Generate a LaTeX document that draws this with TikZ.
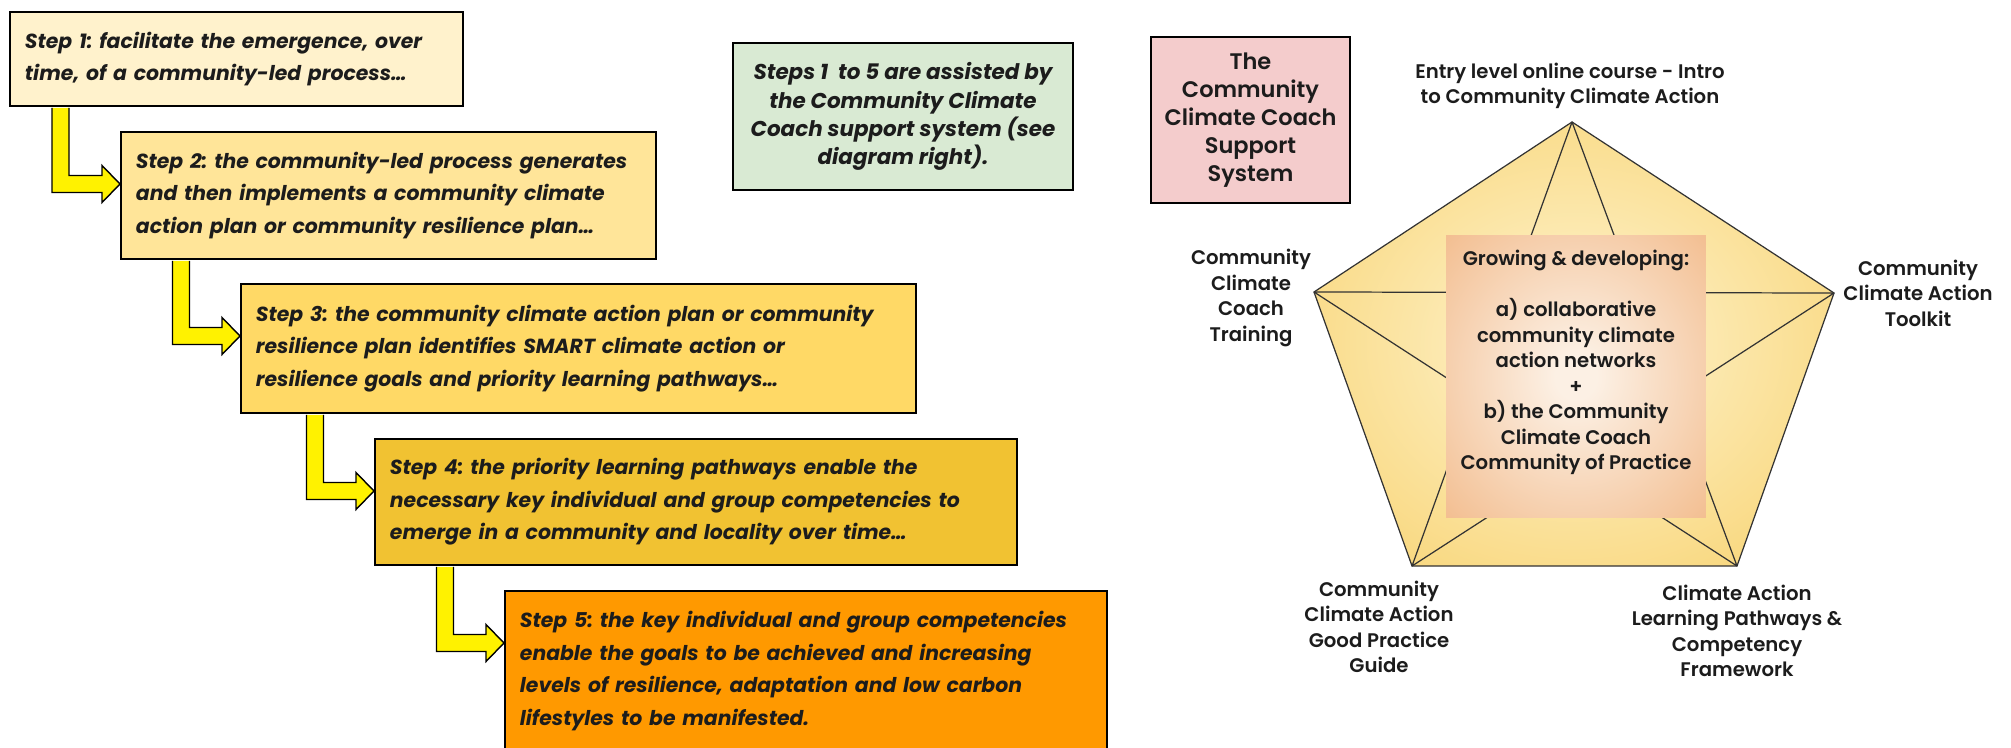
\documentclass[tikz,border=0pt]{standalone}
\usepackage{fontspec}
\setmainfont{Poppins}
\newfontfamily\semifont{Poppins SemiBold}
\frenchspacing
\usetikzlibrary{calc}

\definecolor{stepA}{HTML}{FFF2CC}
\definecolor{stepB}{HTML}{FFE599}
\definecolor{stepC}{HTML}{FFD966}
\definecolor{stepD}{HTML}{F1C232}
\definecolor{stepE}{HTML}{FF9900}
\definecolor{noteGreen}{HTML}{D9EAD3}
\definecolor{notePink}{HTML}{F4CCCC}
\definecolor{tentIn}{HTML}{FDEFC2}
\definecolor{tentOut}{HTML}{F8D474}
\definecolor{coreIn}{HTML}{FCF0E4}
\definecolor{coreOut}{HTML}{EEA465}
\definecolor{ink}{HTML}{1C1C1C}

\pgfdeclareradialshading{tentglow}{\pgfpoint{0bp}{0bp}}{color(0bp)=(tentIn); color(6bp)=(tentIn); color(34bp)=(tentOut); color(72bp)=(tentOut)}
\pgfdeclareradialshading{coreglow}{\pgfpoint{0bp}{0bp}}{color(0bp)=(coreIn); color(4bp)=(coreIn); color(52bp)=(coreOut); color(72bp)=(coreOut)}

\tikzset{
  stepbox/.style={draw=black, line width=1.1pt, anchor=north west, align=left, text=ink,
    inner xsep=0.3cm, inner ysep=0pt, font=\fontsize{11.6}{18.5}\selectfont\bfseries\itshape},
  notebox/.style={draw=black, line width=1.1pt, align=center, text=ink, inner sep=0pt},
  tag/.style={align=center, text=ink, inner sep=0pt, font=\fontsize{11.2}{14.5}\selectfont\semifont},
  tentline/.style={draw=black!80, line width=0.7pt, line join=round},
  joinarrow/.style={fill=yellow, draw=black, line width=0.8pt, line join=miter},
}

% elbow arrow: from box, to box, shaft offset from the left edge
\newcommand{\stepjoin}[3]{%
  \filldraw[joinarrow] ($(#1.south west)+(#3-8.5,1)$) |- ($(#2.north west)+(-18,61.5)$)
    -- ++(0,10) -- ($(#2.north west)+(0,53)$) -- ($(#2.north west)+(-18,34.5)$)
    -- ++(0,10) -| ($(#1.south west)+(#3+8.5,1)$);
}

\begin{document}
\begin{tikzpicture}[x=0.02cm,y=-0.02cm]
\useasboundingbox (0,0) rectangle (2011,747);

\node[stepbox, fill=stepA, minimum width=9.06cm, minimum height=1.88cm, text width=8.46cm] (S1) at (9,11)
  {Step 1: facilitate the emergence, over\\time, of a community-led process…};
\node[stepbox, fill=stepB, minimum width=10.7cm, minimum height=2.54cm, text width=10.1cm] (S2) at (120,131)
  {Step 2: the community-led process generates\\and then implements a community climate\\action plan or community resilience plan…};
\node[stepbox, fill=stepC, minimum width=13.5cm, minimum height=2.58cm, text width=12.9cm] (S3) at (240,283)
  {Step 3: the community climate action plan or community\\resilience plan identifies SMART climate action or\\resilience goals and priority learning pathways…};
\node[stepbox, fill=stepD, minimum width=12.84cm, minimum height=2.52cm, text width=12.24cm] (S4) at (374,438)
  {Step 4: the priority learning pathways enable the\\necessary key individual and group competencies to\\emerge in a community and locality over time…};
\node[stepbox, fill=stepE, minimum width=12.04cm, minimum height=3.2cm, text width=11.44cm] (S5) at (504,590)
  {Step 5: the key individual and group competencies\\enable the goals to be achieved and increasing\\levels of resilience, adaptation and low carbon\\lifestyles to be manifested.};

\stepjoin{S1}{S2}{51.5}
\stepjoin{S2}{S3}{61}
\stepjoin{S3}{S4}{75}
\stepjoin{S4}{S5}{71}

\node[notebox, fill=noteGreen, minimum width=6.8cm, minimum height=2.94cm,
  font=\fontsize{12.2}{16}\selectfont\bfseries\itshape] (Note) at (903,116.5)
  {Steps 1~ to 5 are assisted by\\the Community Climate\\Coach support system (see\\diagram right).};
\node[notebox, fill=notePink, minimum width=3.98cm, minimum height=3.32cm,
  font=\fontsize{12.8}{16}\selectfont\semifont] (Title) at (1250.5,120)
  {The\\Community\\Climate Coach\\Support\\System};

\coordinate (P0) at (1572,122);
\coordinate (P1) at (1834,293);
\coordinate (P2) at (1737,566);
\coordinate (P3) at (1412,566);
\coordinate (P4) at (1314,292);
\shade[shading=tentglow] (P0) -- (P1) -- (P2) -- (P3) -- (P4) -- cycle;
\draw[tentline] (P0) -- (P1) -- (P2) -- (P3) -- (P4) -- cycle;
\draw[tentline] (P0) -- (P2) -- (P4) -- (P1) -- (P3) -- cycle;

\node[shade, shading=coreglow, minimum width=5.2cm, minimum height=5.66cm, inner sep=0pt] (Core) at (1576,376.5) {};
\node[tag] (CoreText) at (1576,362.5)
  {Growing \& developing:\\[14.5pt]a) collaborative\\community climate\\action networks\\+\\b) the Community\\Climate Coach\\Community of Practice};

\node[tag] (Entry) at (1570,86) {Entry level online course - Intro\\to Community Climate Action};
\node[tag] (Training) at (1251,298) {Community\\Climate\\Coach\\Training};
\node[tag] (Toolkit) at (1918,293) {Community\\Climate Action\\Toolkit};
\node[tag] (Guide) at (1379,627) {Community\\Climate Action\\Good Practice\\Guide};
\node[tag] (Framework) at (1737,631) {Climate Action\\Learning Pathways \&\\Competency\\Framework};
\end{tikzpicture}
\end{document}
